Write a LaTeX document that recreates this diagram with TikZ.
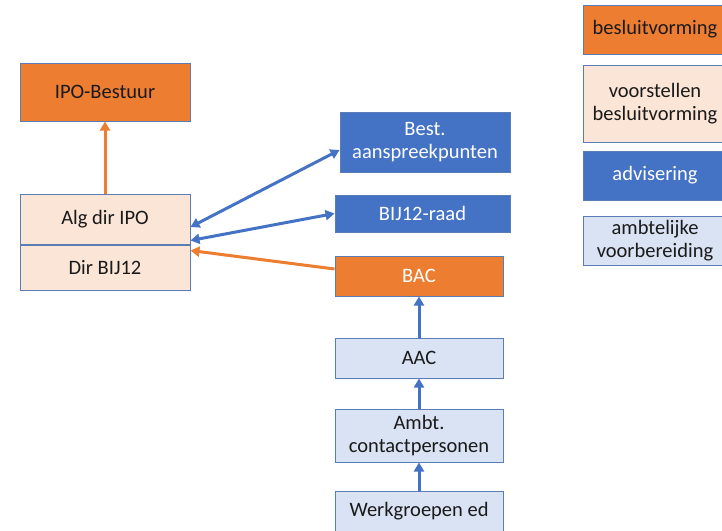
\documentclass[tikz,border=0pt]{standalone}
\usepackage{fontspec}
\setmainfont{Carlito}
\usepackage{tikz}
\usetikzlibrary{positioning,arrows.meta}
\definecolor{besl}{HTML}{ED7D31}
\definecolor{voorst}{HTML}{FBE5D6}
\definecolor{advis}{HTML}{4472C4}
\definecolor{ambt}{HTML}{DAE3F3}
\definecolor{rand}{HTML}{5A7DB5}
\definecolor{tekst}{HTML}{1A1A1A}
\tikzset{
  box/.style={draw=rand,line width=1pt,minimum width=170pt,align=center,inner sep=2pt,font=\fontsize{20.5}{23.5}\selectfont,text=tekst},
  beslbox/.style={box,fill=besl},
  voorstbox/.style={box,fill=voorst},
  advisbox/.style={box,fill=advis,text=white},
  ambtbox/.style={box,fill=ambt},
  pijl/.style={line width=3pt,-{Triangle[length=9pt,width=10pt]}},
  dubbelpijl/.style={pijl,{Triangle[length=9pt,width=10pt]}-{Triangle[length=9pt,width=10pt]}}
}
\begin{document}
\begin{tikzpicture}[x=1pt,y=-1pt]
  \useasboundingbox (0,0) rectangle (722,530);
  % linker kolom
  \node(bestuur)[beslbox,minimum height=58pt] at (105,92) {IPO-Bestuur};
  \node(algdir)[voorstbox,minimum height=50pt] at (105,219) {Alg dir IPO};
  \node(dirbij)[voorstbox,minimum height=45pt,below=0pt of algdir] {Dir BIJ12};
  % rechter kolom
  \node(best)[advisbox,minimum height=60pt] at (425,142) {Best.\\aanspreekpunten};
  \node(raad)[advisbox,minimum width=175pt,minimum height=37pt] at (422.5,213.5) {BIJ12-raad};
  \node(bac)[beslbox,text=white,minimum width=168pt,minimum height=40pt] at (419,276) {BAC};
  \node(aac)[ambtbox,minimum width=168pt,minimum height=40pt] at (419,358) {AAC};
  \node(ambtcp)[ambtbox,minimum width=168pt,minimum height=53pt] at (419,435.5) {Ambt.\\contactpersonen};
  \node(werk)[ambtbox,minimum width=168pt,minimum height=40pt] at (419,511) {Werkgroepen ed};
  % legenda
  \node(lbesl)[beslbox,minimum width=144pt,minimum height=49pt] at (655,29.5) {besluitvorming};
  \node(lvoorst)[voorstbox,minimum width=144pt,minimum height=77pt] at (655,103.5) {voorstellen\\besluitvorming};
  \node(ladvis)[advisbox,minimum width=144pt,minimum height=49pt] at (655,175.5) {advisering};
  \node(lambt)[ambtbox,minimum width=144pt,minimum height=49pt] at (655,240.5) {ambtelijke\\voorbereiding};
  % pijlen
  \draw[pijl,besl] (algdir.north) -- (bestuur.south);
  \draw[dubbelpijl,advis] ([yshift=-8pt]algdir.east) -- ([yshift=-8pt]best.west);
  \draw[dubbelpijl,advis] ([yshift=4pt]algdir.south east) -- (raad.west);
  \draw[pijl,besl] ([yshift=7pt]bac.west) -- ([yshift=-6pt]dirbij.north east);
  \draw[pijl,advis] (aac.north) -- (bac.south);
  \draw[pijl,advis] (ambtcp.north) -- (aac.south);
  \draw[pijl,advis] (werk.north) -- (ambtcp.south);
\end{tikzpicture}
\end{document}
